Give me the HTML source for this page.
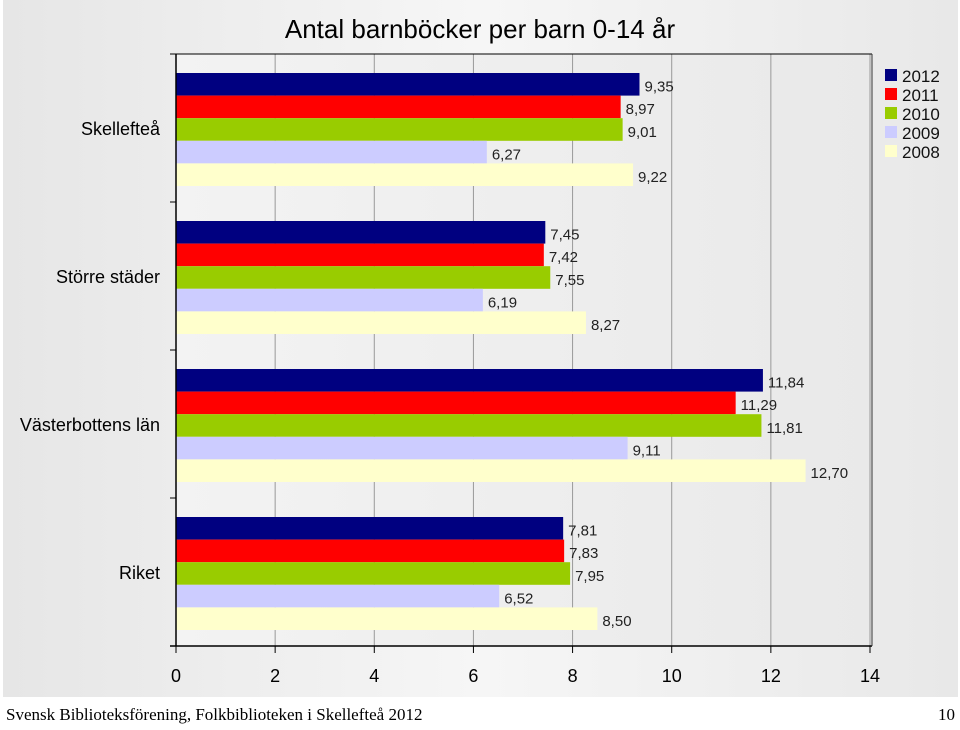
<!DOCTYPE html>
<html><head><meta charset="utf-8"><style>
body{margin:0;width:960px;height:725px;background:#fff;overflow:hidden;font-family:"Liberation Sans",sans-serif}
</style></head><body>
<svg width="960" height="725" xmlns="http://www.w3.org/2000/svg">
<defs>
<linearGradient id="bg" x1="0" x2="1" y1="0" y2="0"><stop offset="0" stop-color="#e6e6e6"/><stop offset="0.5" stop-color="#f6f6f6"/><stop offset="1" stop-color="#e8e8e8"/></linearGradient>
<linearGradient id="pa" x1="0" x2="1"><stop offset="0" stop-color="#f3f3f3"/><stop offset="1" stop-color="#e9e9e9"/></linearGradient>
</defs>
<rect x="3" y="0" width="955" height="697" fill="url(#bg)"/>
<rect x="176" y="54" width="696" height="592" fill="url(#pa)"/>
<text x="480" y="38" font-size="26" text-anchor="middle" fill="#000">Antal barnböcker per barn 0-14 år</text>
<g id="grid"></g><g id="bars"></g><g id="axes"></g>
<g id="legend"></g>
<text x="6" y="720" font-family="Liberation Serif,serif" font-size="17">Svensk Biblioteksförening, Folkbiblioteken i Skellefteå 2012</text>
<text x="955" y="720" font-family="Liberation Serif,serif" font-size="17" text-anchor="end">10</text>
</svg>
<script>
const categories=["Skellefteå","Större städer","Västerbottens län","Riket"];
const years=["2012","2011","2010","2009","2008"];
const colors=["#000080","#ff0000","#99cc00","#ccccff","#ffffcc"];
const v2012=[9.35,7.45,11.84,7.81];
const v2011=[8.97,7.42,11.29,7.83];
const v2010=[9.01,7.55,11.81,7.95];
const v2009=[6.27,6.19,9.11,6.52];
const v2008=[9.22,8.27,12.70,8.50];
const labels2012=["9,35","7,45","11,84","7,81"];
const labels2011=["8,97","7,42","11,29","7,83"];
const labels2010=["9,01","7,55","11,81","7,95"];
const labels2009=["6,27","6,19","9,11","6,52"];
const labels2008=["9,22","8,27","12,70","8,50"];
const xTicks=[0,2,4,6,8,10,12,14];
const series=[v2012,v2011,v2010,v2009,v2008];
const seriesLabels=[labels2012,labels2011,labels2010,labels2009,labels2008];
const NS="http://www.w3.org/2000/svg";
const X0=176,X1=870,XMAX=14,Y0=54,GH=148,BH=22.6,PAD=19;
const x=v=>X0+(X1-X0)*v/XMAX;
function mk(t,a,p,txt){const e=document.createElementNS(NS,t);for(const k in a)e.setAttribute(k,a[k]);if(txt!=null)e.textContent=txt;p.appendChild(e);return e;}
const grid=document.getElementById('grid'),bars=document.getElementById('bars'),axes=document.getElementById('axes'),leg=document.getElementById('legend');
xTicks.forEach(t=>{if(t>0){const g=mk('line',{x1:x(t),x2:x(t),y1:Y0,y2:Y0+GH*4,stroke:'#999','stroke-width':1},grid);

}
const tk=mk('line',{x1:x(t),x2:x(t),y1:Y0+GH*4,y2:Y0+GH*4+7,stroke:'#000'},axes);


const tl=mk('text',{x:x(t),y:682,'font-size':18,'text-anchor':'middle'},axes,String(t));

});
categories.forEach((c,i)=>{const gy=Y0+GH*i;
series.forEach((s,j)=>{const y=gy+PAD+BH*j;
const r=mk('rect',{x:X0,y:y,width:x(s[i])-X0,height:BH,fill:colors[j]},bars);


const l=mk('text',{x:x(s[i])+5,y:y+BH-4,'font-size':15,fill:'#222'},bars,seriesLabels[j][i]);

});
const cl=mk('text',{x:160,y:gy+GH/2+7,'font-size':18,'text-anchor':'end'},axes,c);


const ct=mk('line',{x1:170,x2:X0,y1:gy+GH,y2:gy+GH,stroke:'#000'},axes);

});
const ya=mk('line',{x1:X0,x2:X0,y1:Y0,y2:Y0+GH*4,stroke:'#000','stroke-width':1.5},axes);


const xa=mk('line',{x1:X0-6,x2:872,y1:Y0+GH*4,y2:Y0+GH*4,stroke:'#000','stroke-width':1.5},axes);


const ta=mk('line',{x1:X0-6,x2:872,y1:Y0,y2:Y0,stroke:'#000','stroke-width':1},axes);


const ra=mk('line',{x1:872,x2:872,y1:Y0,y2:Y0+GH*4,stroke:'#333','stroke-width':1},axes);


years.forEach((yr,j)=>{const y=69+19*j;
const sw=mk('rect',{x:885,y:y,width:12,height:12,fill:colors[j]},leg);


const lt=mk('text',{x:902,y:y+13,'font-size':17,fill:'#111'},leg,yr);

});
</script>
</body></html>
